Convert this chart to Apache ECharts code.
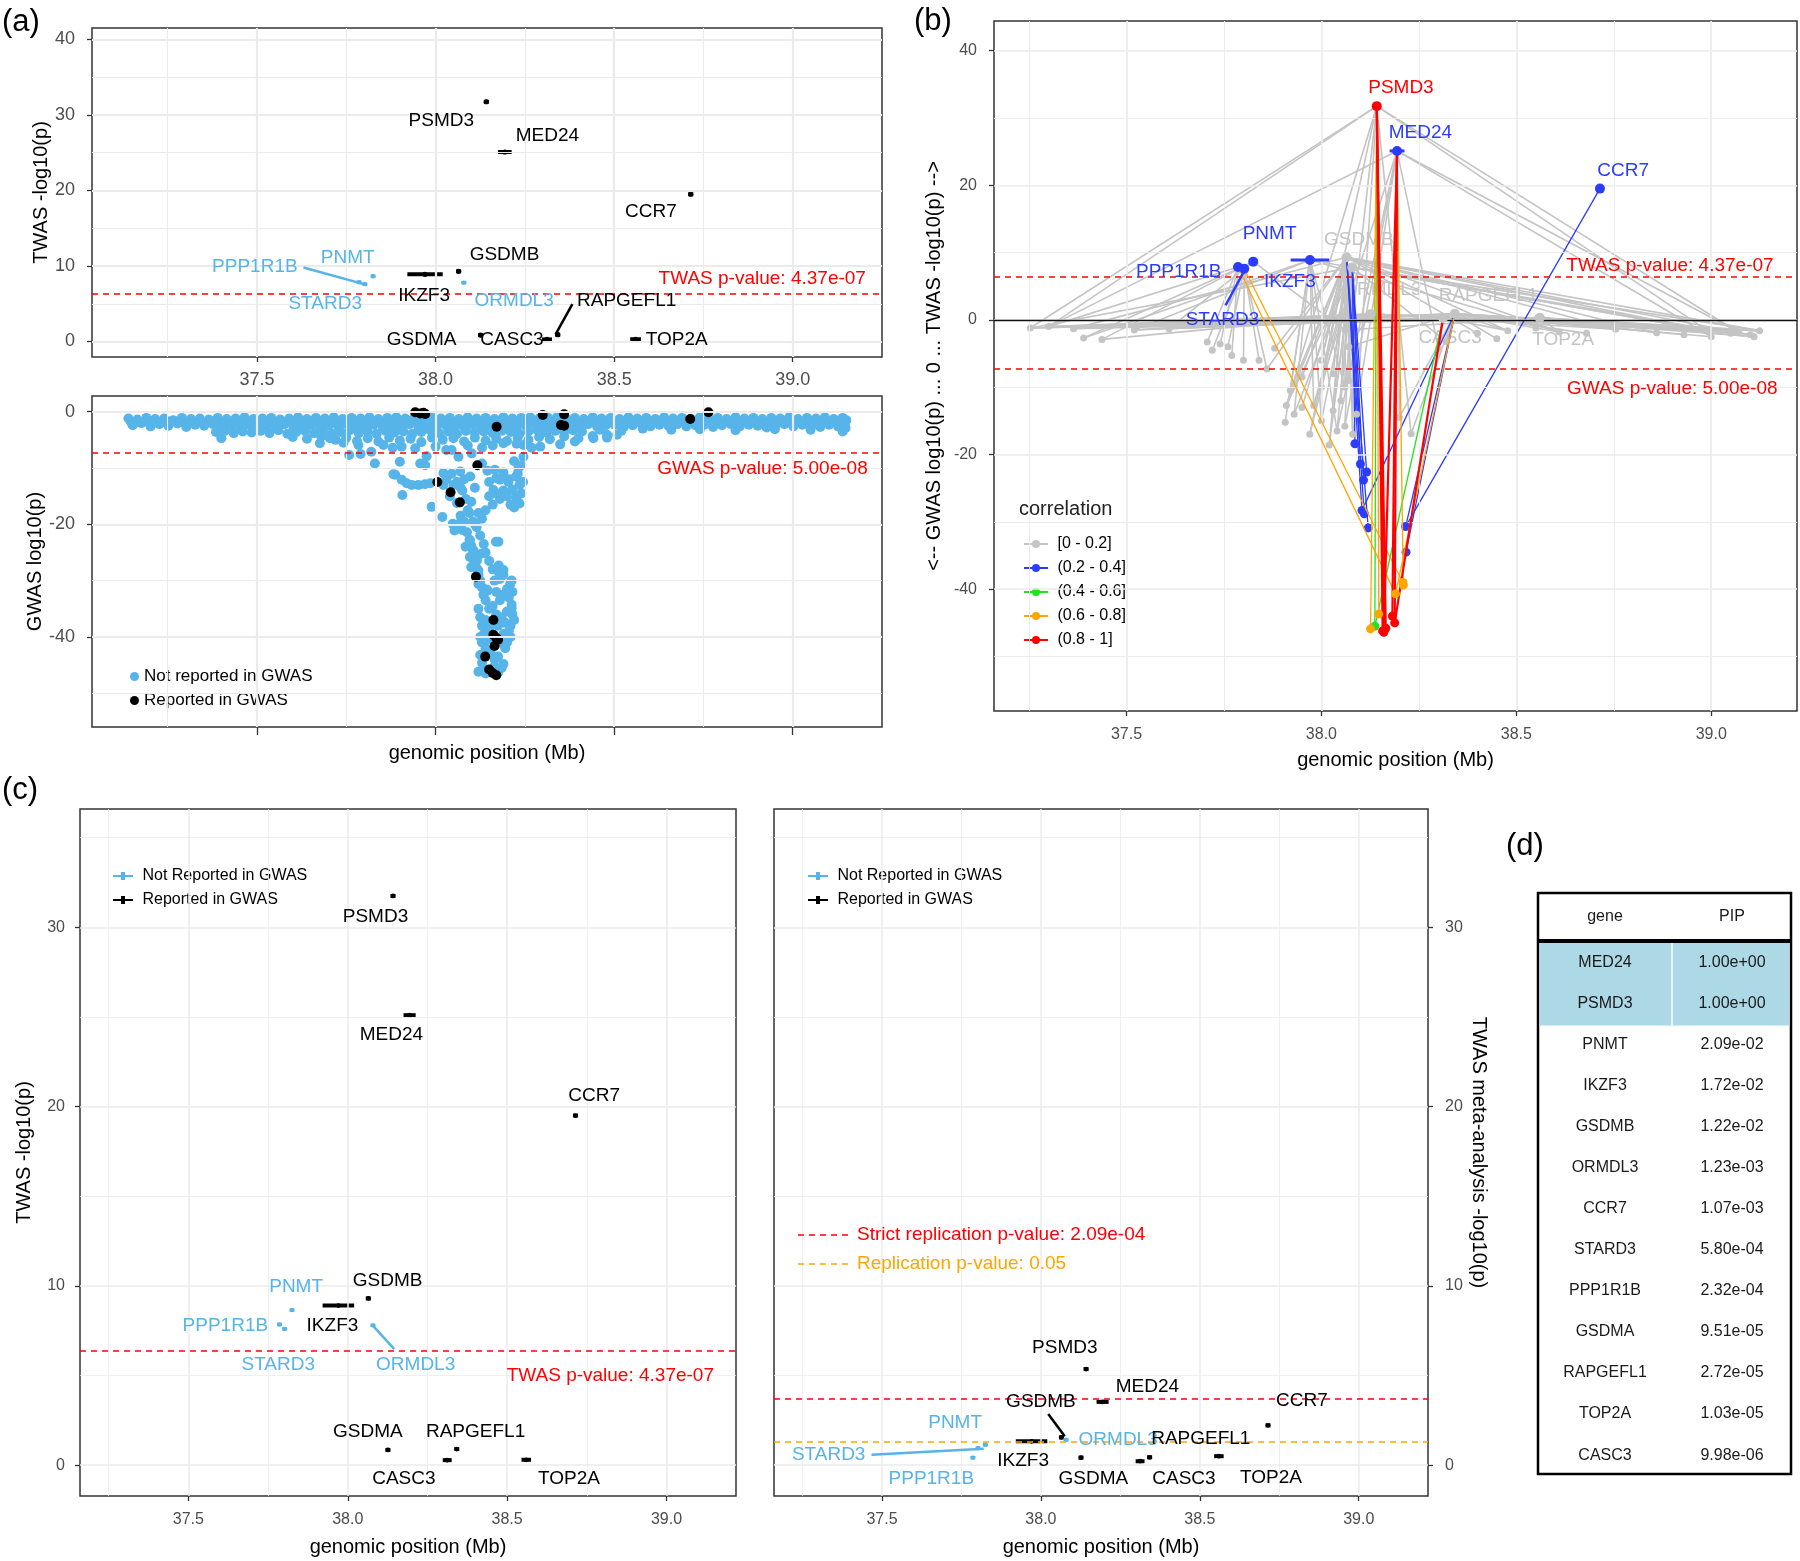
<!DOCTYPE html>
<html>
<head>
<meta charset="utf-8">
<script src="https://cdn.jsdelivr.net/npm/echarts/dist/echarts.min.js"></script>
<style>
html, body { margin: 0; background: #fff; }
#main { width: 1800px; height: 1561px; }
</style>
</head>
<body>
<div id="main"></div>
<script>
// ---- data -------------------------------------------------------------
const genes = ['PSMD3', 'MED24', 'CCR7', 'GSDMB', 'IKZF3', 'PNMT', 'PPP1R1B', 'STARD3', 'ORMDL3', 'GSDMA', 'RAPGEFL1', 'CASC3', 'TOP2A'];
const geneStart = [38.138, 38.175, 38.710, 38.061, 37.921, 37.823, 37.784, 37.796, 38.077, 38.123, 38.338, 38.298, 38.545];
const geneEnd = [38.146, 38.213, 38.719, 38.068, 38.020, 37.827, 37.788, 37.808, 38.081, 38.129, 38.346, 38.326, 38.575];
const twasLogP = [31.75, 25.1, 19.5, 9.3, 8.9, 8.65, 7.85, 7.6, 7.8, 0.85, 0.9, 0.28, 0.3];
const metaLogP = [5.36, 3.53, 2.22, 1.55, 1.33, 1.14, 0.42, 0.95, 1.42, 0.42, 0.44, 0.22, 0.5];
const reportedInGwas = [1, 1, 1, 1, 1, 0, 0, 0, 0, 1, 1, 1, 1];
const bGeneClass = [4, 1, 1, 0, 1, 1, 1, 1, 0, 0, 0, 0, 0];

const twasP = 4.37e-07;
const gwasP = 5.00e-08;
const strictRepP = 2.09e-04;
const repP = 0.05;

const xTicks = [37.5, 38.0, 38.5, 39.0];
const xMinor = [37.25, 37.75, 38.25, 38.75];

// GWAS SNPs (position Mb, log10 p)
const gwasBandTop = [[37.14,-1.2],[37.165,-1.4],[37.19,-1.1],[37.215,-1.3],[37.24,-1.2],[37.265,-1.5],[37.29,-1.1],[37.315,-1.3],[37.34,-1.2],[37.365,-1.4],[37.39,-1.1],[37.415,-1.3],[37.44,-1.2],[37.465,-1.0],[37.49,-1.3],[37.515,-1.2],[37.54,-1.1],[37.565,-1.4],[37.59,-1.2],[37.615,-1.0],[37.64,-1.3],[37.665,-1.1],[37.69,-1.2],[37.715,-1.0],[37.74,-1.3],[37.765,-1.1],[37.79,-1.2],[37.815,-1.0],[37.84,-1.3],[37.865,-1.1],[37.89,-1.0],[37.915,-1.2],[37.94,-1.1],[37.965,-1.3],[37.99,-1.0],[38.015,-1.2],[38.04,-1.1],[38.065,-1.3],[38.09,-1.0],[38.115,-1.2],[38.14,-1.1],[38.165,-1.3],[38.19,-1.0],[38.215,-1.2],[38.24,-1.1],[38.265,-1.0],[38.29,-1.2],[38.315,-1.1],[38.34,-1.0],[38.365,-1.2],[38.39,-1.1],[38.415,-1.3],[38.44,-1.0],[38.465,-1.2],[38.49,-1.1],[38.515,-1.3],[38.54,-1.0],[38.565,-1.2],[38.59,-1.1],[38.615,-1.3],[38.64,-1.0],[38.665,-1.2],[38.69,-1.1],[38.715,-1.3],[38.74,-1.0],[38.765,-1.2],[38.79,-1.1],[38.815,-1.3],[38.84,-1.0],[38.865,-1.2],[38.89,-1.1],[38.915,-1.3],[38.94,-1.1],[38.965,-1.2],[38.99,-1.0],[39.015,-1.3],[39.04,-1.1],[39.065,-1.2],[39.09,-1.0],[39.115,-1.3],[39.14,-1.1],[39.15,-1.5]];
const gwasBandFill = [[37.147,-1.8],[37.172,-1.9],[37.197,-1.7],[37.222,-1.9],[37.247,-1.8],[37.272,-1.7],[37.297,-2.0],[37.322,-1.8],[37.347,-1.9],[37.372,-1.7],[37.397,-1.9],[37.422,-1.8],[37.447,-2.0],[37.472,-1.7],[37.497,-1.9],[37.522,-1.8],[37.547,-1.7],[37.572,-1.9],[37.597,-1.8],[37.622,-2.0],[37.647,-1.7],[37.672,-1.9],[37.697,-1.8],[37.722,-1.7],[37.747,-2.0],[37.772,-1.8],[37.797,-1.9],[37.822,-1.7],[37.847,-1.9],[37.872,-1.8],[37.897,-1.7],[37.922,-2.0],[37.947,-1.8],[37.972,-1.9],[37.997,-1.7],[38.022,-1.8],[38.047,-2.0],[38.072,-1.8],[38.097,-1.7],[38.122,-1.9],[38.147,-1.8],[38.172,-1.7],[38.197,-1.9],[38.222,-1.8],[38.247,-2.0],[38.272,-1.7],[38.297,-1.9],[38.322,-1.8],[38.347,-1.7],[38.372,-1.9],[38.397,-1.8],[38.422,-2.0],[38.447,-1.7],[38.472,-1.9],[38.497,-1.8],[38.522,-1.7],[38.547,-1.9],[38.572,-1.8],[38.597,-2.0],[38.622,-1.7],[38.647,-1.9],[38.672,-1.8],[38.697,-1.7],[38.722,-1.9],[38.747,-1.8],[38.772,-2.0],[38.797,-1.7],[38.822,-1.9],[38.847,-1.8],[38.872,-1.7],[38.897,-1.9],[38.922,-1.8],[38.947,-2.0],[38.972,-1.7],[38.997,-1.9],[39.022,-1.8],[39.047,-1.7],[39.072,-1.9],[39.097,-1.8],[39.122,-2.0],[39.147,-1.9]];
const gwasBandLow = [[37.152,-2.4],[37.177,-2.0],[37.202,-2.6],[37.227,-2.2],[37.252,-2.5],[37.277,-2.1],[37.302,-2.7],[37.327,-2.3],[37.352,-2.5],[37.377,-2.2],[37.402,-2.8],[37.427,-2.4],[37.452,-2.6],[37.477,-2.3],[37.502,-2.7],[37.527,-2.4],[37.552,-2.6],[37.577,-2.2],[37.602,-2.8],[37.627,-2.5],[37.652,-2.3],[37.677,-2.7],[37.702,-2.4],[37.727,-2.6],[37.752,-2.2],[37.777,-2.8],[37.802,-2.5],[37.827,-2.3],[37.852,-2.7],[37.877,-2.4],[37.902,-2.6],[37.927,-2.2],[37.952,-2.7],[37.977,-2.4],[38.002,-2.6],[38.027,-2.3],[38.052,-2.8],[38.077,-2.5],[38.102,-2.2],[38.127,-2.7],[38.152,-2.4],[38.177,-2.6],[38.202,-2.3],[38.227,-2.8],[38.252,-2.5],[38.277,-2.2],[38.302,-2.7],[38.327,-2.4],[38.352,-2.6],[38.377,-2.3],[38.402,-2.5],[38.427,-2.2],[38.452,-2.6],[38.477,-2.4],[38.502,-2.3],[38.527,-2.7],[38.552,-2.4],[38.577,-2.2],[38.602,-2.6],[38.627,-2.3],[38.652,-2.5],[38.677,-2.2],[38.702,-2.6],[38.727,-2.4],[38.752,-2.3],[38.777,-2.7],[38.802,-2.4],[38.827,-2.2],[38.852,-2.6],[38.877,-2.3],[38.902,-2.5],[38.927,-2.8],[38.952,-2.4],[38.977,-2.2],[39.002,-2.6],[39.027,-2.3],[39.052,-2.5],[39.077,-2.7],[39.102,-2.3],[39.127,-2.6],[39.148,-2.9]];
const gwasBandMid = [[37.385,-3.6],[37.41,-3.4],[37.435,-3.8],[37.46,-3.5],[37.485,-3.7],[37.51,-3.4],[37.535,-3.8],[37.56,-3.3],[37.585,-3.9],[37.61,-3.6],[37.635,-3.4],[37.66,-3.8],[37.685,-3.5],[37.71,-3.9],[37.735,-3.6],[37.76,-3.3],[37.785,-3.8],[37.81,-3.5],[37.835,-3.9],[37.86,-3.4],[37.885,-3.7],[37.91,-3.5],[37.935,-3.9],[37.96,-3.6],[37.985,-3.3],[38.01,-3.8],[38.035,-3.5],[38.06,-3.9],[38.085,-3.4],[38.11,-3.7],[38.135,-3.5],[38.16,-3.8],[38.185,-3.4],[38.21,-3.6],[38.235,-3.9],[38.26,-3.5],[38.285,-3.3],[38.31,-3.7],[38.335,-3.4],[38.36,-3.6],[38.385,-3.3],[38.41,-3.5],[38.46,-3.2],[38.52,-3.4],[38.58,-3.0],[38.66,-3.2],[38.74,-3.1],[38.84,-3.3],[38.95,-3.1],[39.05,-3.2],[39.14,-3.5]];
const gwasBandDeep = [[37.60,-4.5],[37.64,-4.8],[37.68,-4.4],[37.72,-5.0],[37.75,-4.6],[37.78,-5.2],[37.81,-4.7],[37.84,-5.3],[37.87,-4.6],[37.90,-5.1],[37.93,-4.8],[37.96,-5.4],[37.99,-4.6],[38.02,-5.0],[38.05,-4.7],[38.08,-5.3],[38.11,-4.6],[38.14,-5.1],[38.17,-4.8],[38.20,-5.2],[38.23,-4.6],[38.26,-5.0],[38.29,-4.5],[38.32,-4.9],[38.36,-4.4],[38.40,-4.7],[38.44,-4.3],[38.48,-4.6],
  [37.40,-4.7],[37.676,-5.6],[37.704,-4.7],[37.742,-5.5],[37.758,-7.7],[37.784,-5.9],[37.79,-7.5],[37.82,-7.1],[37.83,-9.2],[37.854,-5.9],[37.88,-6.4],[37.905,-6.2],[37.943,-6.5],[37.975,-7.9],[38.0,-6.2],[38.03,-6.8],[38.045,-6.8],[38.064,-8.0],[38.09,-6.0],[38.101,-7.4],[38.13,-6.4],[38.16,-6.0],[38.19,-5.6],[38.227,-5.7],[38.246,-5.9],[38.269,-6.4],[38.293,-6.2],[38.349,-5.8],[38.39,-5.3],[38.442,-4.7],[38.48,-4.1],[38.508,-4.1]];
const gwasSpike = [[37.882,-11.1],[37.90,-8.9],[37.957,-9.2],[37.971,-9.5],[37.907,-14.8],[37.989,-16.9],[38.022,-10.9],[38.069,-10.6],[38.097,-11.5],[38.022,-13.0],
  [37.887,-11.2],[37.905,-12.1],[37.919,-12.7],[37.933,-13.0],[37.952,-13.0],[37.97,-12.9],[37.985,-12.7],
  [38.019,-18.7],[38.048,-19.9],[38.064,-20.0],[38.053,-21.1],[38.088,-21.4],[38.096,-22.8],[38.084,-24.0],[38.106,-24.6],[38.096,-25.8],[38.116,-26.4],[38.10,-27.6],[38.12,-28.2],[38.12,-30.6],[38.145,-31.8],[38.129,-25.2],[38.169,-23.1],[38.177,-27.3],[38.177,-28.5],[38.18,-29.7],[38.209,-30.6],
  [38.04,-15.0],[38.06,-16.2],[38.075,-14.0],[38.05,-13.0],[38.08,-12.0],[38.09,-17.5],[38.07,-18.5],[38.11,-13.5],[38.1,-16.0],[38.13,-9.2],[38.145,-10.5],[38.15,-12.5],[38.17,-11.8],[38.19,-10.8],[38.205,-12.0],[38.215,-13.8],[38.225,-15.2],[38.235,-16.3],[38.23,-11.0],[38.24,-9.5],[38.245,-12.5],[38.166,-10.3],[38.18,-12.1],[38.204,-12.5],[38.162,-13.9],[38.246,-8.0],[38.232,-10.0],[38.176,-23.1],[38.19,-28.1],
  [38.095,-22.8],[38.1,-23.8],[38.105,-25.0],[38.11,-26.8],[38.115,-27.8],[38.12,-29.0],[38.125,-30.0],[38.13,-31.2],[38.134,-32.5],[38.144,-31.6],[38.176,-27.5],[38.19,-29.0],[38.213,-30.0],[38.213,-34.3],[38.213,-34.9],
  [38.12,-35.0],[38.125,-36.5],[38.13,-38.0],[38.135,-39.5],[38.14,-37.0],[38.15,-38.5],[38.155,-40.0],[38.175,-38.0],[38.185,-36.5],[38.195,-37.5],[38.2,-35.5],[38.205,-39.0],[38.21,-40.0],[38.215,-36.0],[38.19,-39.5],[38.18,-41.0],
  [38.125,-43.2],[38.13,-44.6],[38.135,-45.8],[38.14,-46.5],[38.15,-46.0],[38.165,-45.2],[38.175,-46.3],[38.185,-45.5],[38.19,-44.8],[38.12,-46.2],
  [38.105,-19.5],[38.115,-20.5],[38.125,-22.0],[38.135,-23.5],[38.14,-25.0],[38.15,-26.5],[38.16,-28.0],[38.165,-30.0],[38.17,-32.0],[38.18,-33.5],[38.19,-32.5],[38.2,-31.5],[38.205,-33.0],[38.215,-32.0],[38.14,-33.5],[38.15,-35.0],[38.16,-34.5],[38.17,-36.0],[38.145,-40.5],[38.14,-42.0],[38.155,-43.0],[38.165,-44.0],[38.175,-43.5],[38.195,-42.0],[38.2,-41.0],[38.21,-38.0],[38.22,-37.0],[38.18,-37.5],[38.13,-41.0],[38.125,-40.0],
  [38.22,-8.8],[38.225,-11.5],[38.235,-13.0],[38.24,-14.5],[38.23,-16.0],[38.22,-17.0],[38.21,-16.5],[38.2,-15.0],[38.19,-14.0],[38.18,-15.5],[38.17,-14.5],[38.16,-16.5],[38.15,-15.0],[38.14,-17.5],[38.13,-19.0],[38.12,-18.0],[38.11,-20.0],
  [38.03,-12.0],[38.045,-11.0],[38.06,-12.5],[38.07,-13.5],[38.085,-15.5],[38.095,-18.0],[38.08,-19.5],[38.075,-21.0]];
const gwasReported = [[37.943,-0.1],[37.957,-0.3],[37.971,-0.4],[37.966,-0.2],[38.171,-2.66],[38.30,-0.6],[38.36,-0.47],[38.351,-2.36],[38.36,-2.5],[38.713,-1.3],[38.764,-0.1],[38.117,-9.5],[38.005,-12.5],[38.042,-14.3],[38.068,-16.1],[38.113,-29.3],[38.162,-37.0],[38.162,-39.6],[38.17,-40.2],[38.175,-40.5],[38.165,-41.6],[38.139,-43.5],[38.15,-45.8],[38.16,-46.4],[38.17,-46.8]];

// panel (b): [gene index, SNP position (Mb), GWAS log10 p, correlation class]
const corrNames = ['[0 - 0.2]', '(0.2 - 0.4]', '(0.4 - 0.6]', '(0.6 - 0.8]', '(0.8 - 1]'];
const bLinks = [
  [0,37.253,-1.2,0],[0,39.06,-1.5,0],[0,38.06,-10.0,0],[0,38.00,-6.0,0],[0,38.23,-16.9,0],[0,37.91,-12.7,0],[0,38.09,-14.0,0],[0,38.99,-1.6,0],[0,37.30,-1.0,0],
  [1,37.30,-1.0,0],[1,39.07,-1.8,0],[1,39.00,-2.5,0],[1,38.06,-15.8,0],[1,38.20,-14.5,0],[1,38.30,-4.2,0],[1,38.08,-17.0,0],[1,38.04,-16.5,0],[1,37.98,-12.7,0],
  [3,37.364,-1.3,0],[3,39.10,-2.2,0],[3,39.124,-1.6,0],[3,38.478,-1.6,0],[3,38.755,-1.4,0],[3,38.02,-18.6,0],[3,37.95,-13.0,0],[3,37.91,-12.7,0],[3,38.05,-12.0,0],[3,38.07,-4.0,0],[3,38.61,-1.8,0],[3,38.99,-1.6,0],[3,38.08,-17.0,0],[3,38.09,-14.0,0],
  [3,37.86,-7.3,0],[3,37.88,-4.2,0],[3,38.00,-6.0,0],[3,38.06,-10.0,0],[3,38.03,-8.0,0],[3,37.92,-10.5,0],[3,37.95,-8.5,0],[3,38.00,-10.0,0],[3,38.03,-13.5,0],[3,37.97,-17.0,0],[3,38.40,-2.0,0],[3,38.86,-1.9,0],
  [4,37.907,-15.2,0],[4,37.98,-12.7,0],[4,38.61,-1.8,0],[4,37.52,-1.5,0],[4,38.04,-16.5,0],[4,38.00,-15.0,0],[4,38.06,-10.0,0],[4,37.93,-14.0,0],[4,38.99,-1.6,0],[4,37.39,-2.7,0],[4,37.92,-10.5,0],
  [5,37.39,-2.7,0],[5,37.437,-2.9,0],[5,37.609,-1.3,0],[5,38.06,-1.5,0],
  [6,37.707,-3.3,0],[6,37.74,-3.6,0],[6,37.77,-5.3,0],[6,37.30,-1.0,0],
  [7,37.80,-6.0,0],[7,37.76,-4.0,0],[7,37.86,-7.3,0],[7,37.72,-4.5,0],[7,37.84,-6.0,0],
  [8,38.00,-15.0,0],[8,37.93,-14.0,0],[8,38.06,-15.8,0],[8,39.05,-2.0,0],[8,38.99,-1.6,0],[8,38.32,-3.2,0],[8,38.05,-12.0,0],[8,38.07,-9.0,0],
  [8,37.91,-12.7,0],[8,37.98,-12.7,0],[8,38.02,-18.6,0],[8,38.04,-16.5,0],[8,38.09,-14.0,0],[8,38.08,-17.0,0],[8,37.253,-1.2,0],[8,39.124,-1.6,0],[8,37.97,-17.0,0],[8,38.03,-13.5,0],
  [9,37.253,-1.2,0],[9,39.124,-1.6,0],[9,38.07,-4.0,0],[9,37.30,-1.0,0],[9,39.06,-1.5,0],[9,38.99,-1.6,0],[9,37.52,-1.5,0],[9,38.755,-1.4,0],[9,37.437,-2.9,0],
  [10,39.06,-1.5,0],[10,39.124,-1.6,0],[10,39.11,-2.5,0],[10,37.30,-1.0,0],[10,37.364,-1.3,0],[10,38.07,-4.0,0],[10,38.30,-4.2,0],[10,38.32,-3.2,0],[10,38.478,-1.6,0],[10,38.755,-1.4,0],[10,38.20,-14.5,0],[10,38.23,-16.9,0],
  [10,38.99,-1.6,0],[10,39.07,-1.8,0],[10,39.00,-2.5,0],[10,37.52,-1.5,0],[10,37.609,-1.3,0],[10,38.61,-1.8,0],[10,38.45,-2.8,0],[10,38.68,-2.0,0],[10,38.93,-2.2,0],
  [11,37.253,-1.2,0],[11,39.07,-1.8,0],[11,38.99,-1.6,0],[11,37.52,-1.5,0],[11,39.124,-1.6,0],[11,39.06,-1.5,0],[11,37.30,-1.0,0],[11,38.478,-1.6,0],[11,37.609,-1.3,0],[11,38.30,-4.2,0],
  [12,39.10,-2.2,0],[12,37.364,-1.3,0],[12,38.61,-1.8,0],[12,38.06,-1.5,0],[12,39.06,-1.5,0],[12,39.124,-1.6,0],[12,39.11,-2.5,0],[12,37.253,-1.2,0],[12,38.99,-1.6,0],[12,38.755,-1.4,0],[12,38.55,-1.2,0],[12,38.86,-1.9,0],
  [2,38.216,-30.7,1],[8,38.086,-18.4,1],[8,38.10,-21.4,1],[8,38.116,-22.6,1],[8,38.108,-23.8,1],[3,38.104,-28.3,1],[3,38.11,-28.8,1],[3,38.12,-30.9,1],[10,38.217,-34.5,1],[10,38.216,-30.7,1],[10,38.104,-28.3,1],
  [0,38.137,-45.5,2],[11,38.137,-45.5,2],
  [7,38.209,-39.0,3],[6,38.19,-40.7,3],[0,38.126,-45.9,3],[0,38.147,-43.7,3],[1,38.21,-39.4,3],[10,38.19,-40.7,3],
  [0,38.157,-46.2,4],[0,38.16,-46.4,4],[0,38.165,-45.8,4],[1,38.188,-45.0,4],[1,38.182,-44.0,4],[1,38.16,-46.4,4],[11,38.188,-45.0,4]
];

// panel (d)
const pipGenes = ['MED24', 'PSMD3', 'PNMT', 'IKZF3', 'GSDMB', 'ORMDL3', 'CCR7', 'STARD3', 'PPP1R1B', 'GSDMA', 'RAPGEFL1', 'TOP2A', 'CASC3'];
const pipValues = [1.00, 1.00, 2.09e-2, 1.72e-2, 1.22e-2, 1.23e-3, 1.07e-3, 5.80e-4, 2.32e-4, 9.51e-5, 2.72e-5, 1.03e-5, 9.98e-6];

// ---- styling ----------------------------------------------------------
const FONT = '"Liberation Sans", Arial, sans-serif';
const SKY = '#56B4E9';
const corrColors = ['#c4c4c4', '#2b3cff', '#22e022', '#ffa500', '#ff0000'];
const RED = '#ff0000';

const twasLine = -Math.log10(twasP);
const gwasLine = Math.log10(gwasP);
const strictLine = -Math.log10(strictRepP);
const repLine = -Math.log10(repP);

const mid = i => (geneStart[i] + geneEnd[i]) / 2;

function xAxisDef(grid, min, max, o) {
  return {
    type: 'value', gridIndex: grid, min, max, position: 'bottom',
    axisLine: { show: false, onZero: false },
    axisTick: { show: true, length: o.tick, lineStyle: { color: '#333', width: 1.3 }, customValues: xTicks },
    axisLabel: { show: o.labels, margin: o.margin, color: '#4d4d4d', fontSize: o.font, fontFamily: FONT,
      formatter: v => v.toFixed(1), customValues: xTicks },
    splitLine: { show: false },
    name: o.name || '', nameLocation: 'middle', nameGap: o.nameGap || 0,
    nameTextStyle: { fontSize: 20, fontFamily: FONT, color: '#000' }
  };
}
function yAxisDef(grid, min, max, ticks, o) {
  return {
    type: 'value', gridIndex: grid, min, max, position: o.right ? 'right' : 'left',
    axisLine: { show: false, onZero: false },
    axisTick: { show: true, length: 5, lineStyle: { color: '#333', width: 1.3 }, customValues: ticks },
    axisLabel: { margin: o.margin, color: '#4d4d4d', fontSize: o.font, fontFamily: FONT, customValues: ticks },
    splitLine: { show: false },
    name: o.name, nameLocation: 'middle', nameGap: o.nameGap, nameRotate: o.right ? -90 : 90,
    nameTextStyle: { fontSize: 20, fontFamily: FONT, color: '#000' }
  };
}

function gridLines(i, hMajor, hMinor, wMaj, wMin) {
  const d = [];
  xMinor.forEach(v => d.push({ xAxis: v, lineStyle: { width: wMin } }));
  hMinor.forEach(v => d.push({ yAxis: v, lineStyle: { width: wMin } }));
  xTicks.forEach(v => d.push({ xAxis: v, lineStyle: { width: wMaj } }));
  hMajor.forEach(v => d.push({ yAxis: v, lineStyle: { width: wMaj } }));
  return {
    type: 'line', xAxisIndex: i, yAxisIndex: i, data: [], silent: true, z: 1,
    markLine: { silent: true, symbol: 'none', animation: false, label: { show: false },
      lineStyle: { color: '#ebebeb', type: 'solid' }, emphasis: { disabled: true }, data: d }
  };
}

function refLines(i, lines) {
  return {
    type: 'line', xAxisIndex: i, yAxisIndex: i, data: [], silent: true, z: 3,
    markLine: { silent: true, symbol: 'none', animation: false, label: { show: false }, emphasis: { disabled: true },
      data: lines.map(l => ({ yAxis: l.y, lineStyle: { color: l.color, width: l.width || 1.5, type: l.dash ? [6, 5] : 'solid' } })) }
  };
}

function geneSeries(name, i, idx, vals, color, dotR, lw, z) {
  return {
    type: 'custom', name, xAxisIndex: i, yAxisIndex: i, z: z || 4, silent: true,
    itemStyle: { color },
    data: idx.map(k => [geneStart[k], geneEnd[k], vals[k]]),
    renderItem: (params, api) => {
      const a = api.coord([api.value(0), api.value(2)]);
      const b = api.coord([api.value(1), api.value(2)]);
      const x1 = Math.min(a[0], b[0]), x2 = Math.max(a[0], b[0]);
      const pad = Math.max(0, (5 - (x2 - x1)) / 2);
      return { type: 'group', children: [
        { type: 'line', shape: { x1: x1 - pad, y1: a[1], x2: x2 + pad, y2: a[1] }, style: { stroke: color, lineWidth: lw } },
        { type: 'circle', shape: { cx: (x1 + x2) / 2, cy: a[1], r: dotR }, style: { fill: color } }
      ] };
    }
  };
}

function labelSeries(i, items, z) {
  return {
    type: 'custom', xAxisIndex: i, yAxisIndex: i, z: z || 6, silent: true,
    data: items.map((it, k) => [it.at[0], it.at[1], k]),
    renderItem: (params, api) => {
      const it = items[api.value(2)];
      const p = api.coord([api.value(0), api.value(1)]);
      const children = [];
      if (it.lead) {
        const a = api.coord(it.lead[0]), b = api.coord(it.lead[1]);
        children.push({ type: 'line', shape: { x1: a[0], y1: a[1], x2: b[0], y2: b[1] }, style: { stroke: it.color, lineWidth: it.lw || 2.5 } });
      }
      const al = it.align || 'center';
      children.push({ type: 'text', x: p[0], y: p[1], style: { text: it.text, fill: it.color, font: (it.size || 19) + 'px ' + FONT,
        align: al, textAlign: al, verticalAlign: 'middle', textVerticalAlign: 'middle' } });
      return { type: 'group', children };
    }
  };
}

const nameColor = k => reportedInGwas[k] ? '#000' : SKY;
function geneLabels(pos, leads) {
  return Object.keys(pos).map(g => {
    const k = genes.indexOf(g);
    return { text: g, at: pos[g], color: nameColor(k), lead: leads[g] };
  });
}

// ---- label placement per panel (data coordinates) ----------------------
const labA = geneLabels({
  PSMD3: [38.016, 29.2], MED24: [38.313, 27.3], CCR7: [38.603, 17.2], GSDMB: [38.193, 11.5], IKZF3: [37.968, 6.0],
  PNMT: [37.754, 11.1], PPP1R1B: [37.494, 9.9], STARD3: [37.691, 4.96], ORMDL3: [38.22, 5.35], RAPGEFL1: [38.535, 5.35],
  GSDMA: [37.961, 0.27], CASC3: [38.214, 0.27], TOP2A: [38.675, 0.27]
}, { PPP1R1B: [[37.63, 9.8], [37.807, 7.5]], RAPGEFL1: [[38.383, 4.96], [38.336, 0.95]] });
labA.push({ text: 'TWAS p-value: 4.37e-07', at: [39.205, 8.26], color: RED, align: 'right' });

const labC = geneLabels({
  PSMD3: [38.087, 30.6], MED24: [38.137, 24.0], CCR7: [38.773, 20.6], GSDMB: [38.125, 10.3], PNMT: [37.838, 9.94],
  PPP1R1B: [37.616, 7.75], IKZF3: [37.952, 7.75], STARD3: [37.782, 5.6], ORMDL3: [38.213, 5.6],
  GSDMA: [38.063, 1.89], RAPGEFL1: [38.401, 1.89], CASC3: [38.176, -0.75], TOP2A: [38.694, -0.75]
}, { ORMDL3: [[38.078, 7.8], [38.146, 6.47]] });
labC.push({ text: 'TWAS p-value: 4.37e-07', at: [39.149, 5.0], color: RED, align: 'right' });

const labCR = geneLabels({
  PSMD3: [38.075, 6.56], MED24: [38.335, 4.39], CCR7: [38.821, 3.61], GSDMB: [38.0, 3.56], PNMT: [37.73, 2.36],
  ORMDL3: [38.243, 1.42], RAPGEFL1: [38.503, 1.47], STARD3: [37.332, 0.58], IKZF3: [37.944, 0.22],
  PPP1R1B: [37.655, -0.75], GSDMA: [38.165, -0.75], CASC3: [38.45, -0.75], TOP2A: [38.724, -0.69]
}, { GSDMB: [[38.023, 2.86], [38.075, 1.61]], STARD3: [[37.467, 0.58], [37.82, 0.92]] });

const bPos = {
  PSMD3: [38.204, 34.5], MED24: [38.254, 27.8], CCR7: [38.774, 22.2], PNMT: [37.867, 12.8], GSDMB: [38.096, 11.9],
  PPP1R1B: [37.634, 7.1], IKZF3: [37.919, 5.7], ORMDL3: [38.155, 4.5], RAPGEFL1: [38.428, 3.6], STARD3: [37.746, 0.0],
  CASC3: [38.33, -2.6], TOP2A: [38.62, -3.0]
};
const bLabGray = [], bLabColor = [];
Object.keys(bPos).forEach(g => {
  const k = genes.indexOf(g);
  const c = bGeneClass[k];
  const it = { text: g, at: bPos[g], color: c === 0 ? '#c4c4c4' : corrColors[c] };
  if (g === 'STARD3') it.lead = [[37.754, 2.15], [37.805, 7.6]];
  (c === 0 ? bLabGray : bLabColor).push(it);
});
const bThreshLab = [
  { text: 'TWAS p-value: 4.37e-07', at: [39.16, 8.1], color: RED, align: 'right' },
  { text: 'GWAS p-value: 5.00e-08', at: [39.17, -10.2], color: RED, align: 'right' }
];

// ---- series ------------------------------------------------------------
const all = genes.map((g, k) => k);
const notRep = all.filter(k => !reportedInGwas[k]);
const rep = all.filter(k => reportedInGwas[k]);

const series = [
  gridLines(0, [0, 10, 20, 30, 40], [5, 15, 25, 35], 2.2, 1.1),
  gridLines(1, [0, -20, -40], [-10, -30, -50], 2.2, 1.1),
  gridLines(2, [40, 20, 0, -20, -40], [30, 10, -10, -30, -50], 1.7, 0.9),
  gridLines(3, [0, 10, 20, 30], [5, 15, 25, 35], 1.5, 0.8),
  gridLines(4, [0, 10, 20, 30], [5, 15, 25, 35], 1.5, 0.8),

  // (a) top
  refLines(0, [{ y: twasLine, color: RED, dash: true }]),
  geneSeries('a-rep', 0, rep, twasLogP, '#000', 2.6, 4),
  geneSeries('a-notrep', 0, notRep, twasLogP, SKY, 2.2, 3.5),
  labelSeries(0, labA),

  // (a) bottom
  refLines(1, [{ y: gwasLine, color: RED, dash: true }]),
  { type: 'scatter', name: 'Not reported in GWAS', xAxisIndex: 1, yAxisIndex: 1, symbolSize: 10, z: 2, silent: true,
    itemStyle: { color: SKY, opacity: 1 },
    data: [].concat(gwasBandTop, gwasBandFill, gwasBandLow, gwasBandMid, gwasBandDeep, gwasSpike) },
  { type: 'scatter', name: 'Reported in GWAS', xAxisIndex: 1, yAxisIndex: 1, symbolSize: 10, z: 4, silent: true,
    itemStyle: { color: '#000', opacity: 1 }, data: gwasReported },
  labelSeries(1, [{ text: 'GWAS p-value: 5.00e-08', at: [39.21, -10.2], color: RED, align: 'right' }]),

  // (b)
  refLines(2, [{ y: 0, color: '#111', width: 1.4 }, { y: twasLine, color: RED, dash: true }, { y: gwasLine, color: RED, dash: true }]),
  labelSeries(2, bLabGray, 2),
  labelSeries(2, bThreshLab, 12)
];

corrNames.forEach((nm, c) => {
  const links = bLinks.filter(l => l[3] === c);
  const seen = {};
  const pts = [];
  links.forEach(l => { const key = l[1] + '_' + l[2]; if (!seen[key]) { seen[key] = 1; pts.push([l[1], l[2]]); } });
  series.push({ type: 'scatter', name: nm, xAxisIndex: 2, yAxisIndex: 2, symbolSize: c === 0 ? 7 : 9, z: 4 + c, silent: true,
    itemStyle: { color: corrColors[c], opacity: 1 }, data: pts });
  series.push({ type: 'lines', name: nm, coordinateSystem: 'cartesian2d', xAxisIndex: 2, yAxisIndex: 2, z: 3 + c, silent: true,
    lineStyle: { color: corrColors[c], width: c === 4 ? 2.2 : (c === 0 ? 1.6 : 1.3), opacity: 1, curveness: 0 },
    data: links.map(l => ({ coords: [[mid(l[0]), twasLogP[l[0]]], [l[1], l[2]]] })) });
});
[0, 1, 4].forEach(c => {
  const idx = all.filter(k => bGeneClass[k] === c);
  series.push(geneSeries('b-gene-' + c, 2, idx, twasLogP, corrColors[c], 5, 3, 9));
});
series.push(labelSeries(2, bLabColor, 10));

// (c) left and right
series.push(
  refLines(3, [{ y: twasLine, color: RED, dash: true }]),
  geneSeries('Reported in GWAS', 3, rep, twasLogP, '#000', 2.4, 4),
  geneSeries('Not Reported in GWAS', 3, notRep, twasLogP, SKY, 2.2, 3.5),
  labelSeries(3, labC),
  refLines(4, [{ y: strictLine, color: RED, dash: true }, { y: repLine, color: '#ffa500', dash: true }]),
  geneSeries('Reported in GWAS', 4, rep, metaLogP, '#000', 2.4, 4),
  geneSeries('Not Reported in GWAS', 4, notRep, metaLogP, SKY, 2.2, 3.5),
  labelSeries(4, labCR)
);

// ---- graphic: panel letters, annotations, PIP table -------------------
const txt = (x, y, text, size, color, align) => ({
  type: 'text', x, y, z: 100,
  style: { text, fill: color || '#000', font: size + 'px ' + FONT, align: align || 'left', textAlign: align || 'left',
    verticalAlign: 'middle', textVerticalAlign: 'middle' }
});
const fmtPip = v => {
  const parts = v.toExponential(2).split('e');
  const e = parseInt(parts[1], 10);
  return parts[0] + 'e' + (e < 0 ? '-' : '+') + String(Math.abs(e)).padStart(2, '0');
};

const T = { left: 1538, right: 1791, top: 893, bottom: 1474, headY: 917, lineY: 941, row0: 962.5, rowH: 41.05, c1: 1605, c2: 1732, div: 1672 };
const hiRows = pipValues.filter(v => v >= 0.5).length;
const graphics = [
  txt(2, 22, '(a)', 31), txt(914, 21, '(b)', 31), txt(2, 790, '(c)', 31), txt(1506, 846, '(d)', 31),
  txt(1019, 509, 'correlation', 20, '#222'),
  { type: 'line', z: 100, shape: { x1: 798, y1: 1235, x2: 852, y2: 1235 }, style: { stroke: RED, lineWidth: 1.6, lineDash: [6, 5] } },
  txt(857, 1235, 'Strict replication p-value: 2.09e-04', 19, RED),
  { type: 'line', z: 100, shape: { x1: 798, y1: 1264, x2: 852, y2: 1264 }, style: { stroke: '#ffa500', lineWidth: 1.6, lineDash: [6, 5] } },
  txt(857, 1264, 'Replication p-value: 0.05', 19, '#ffa500'),
  { type: 'rect', z: 99, shape: { x: T.left, y: T.top, width: T.right - T.left, height: T.bottom - T.top }, style: { fill: '#fff', stroke: '#000', lineWidth: 2.5 } },
  { type: 'rect', z: 100, shape: { x: T.left + 1.5, y: T.lineY + 1.5, width: T.right - T.left - 3, height: hiRows * T.rowH + 1 }, style: { fill: '#add8e6' } },
  { type: 'line', z: 101, shape: { x1: T.div, y1: T.lineY + 2, x2: T.div, y2: T.lineY + 2 + hiRows * T.rowH }, style: { stroke: '#fff', lineWidth: 1.5 } },
  { type: 'line', z: 101, shape: { x1: T.left, y1: T.lineY, x2: T.right, y2: T.lineY }, style: { stroke: '#000', lineWidth: 4 } },
  txt(T.c1, T.headY, 'gene', 16, '#1a1a1a', 'center'), txt(T.c2, T.headY, 'PIP', 16, '#1a1a1a', 'center')
];
pipGenes.forEach((g, r) => {
  const y = T.row0 + r * T.rowH;
  graphics.push(txt(T.c1, y, g, 16, '#1a1a1a', 'center'), txt(T.c2, y, fmtPip(pipValues[r]), 16, '#1a1a1a', 'center'));
});

// ---- chart -------------------------------------------------------------
const chart = echarts.init(document.getElementById('main'));
const gridStyle = { show: true, borderColor: '#333', borderWidth: 1.5, backgroundColor: '#fff' };
const lineIcon = 'path://M0,4h20v2h-20z M8,1h4v8h-4z';
const corrIcon = 'path://M0,3h24v2h-24z M8,4a4,4 0 1,1 8,0a4,4 0 1,1 -8,0z';

chart.setOption({
  animation: false,
  backgroundColor: '#fff',
  textStyle: { fontFamily: FONT },
  grid: [
    Object.assign({ left: 92, top: 28, width: 790, height: 329 }, gridStyle),
    Object.assign({ left: 92, top: 396, width: 790, height: 331 }, gridStyle),
    Object.assign({ left: 994, top: 21, width: 803, height: 690 }, gridStyle),
    Object.assign({ left: 80, top: 809, width: 656, height: 687 }, gridStyle),
    Object.assign({ left: 774, top: 809, width: 654, height: 687 }, gridStyle)
  ],
  xAxis: [
    xAxisDef(0, 37.038, 39.25, { tick: 5, labels: true, margin: 14, font: 18 }),
    xAxisDef(1, 37.038, 39.25, { tick: 8, labels: false, margin: 8, font: 18, name: 'genomic position (Mb)', nameGap: 16 }),
    xAxisDef(2, 37.16, 39.22, { tick: 5, labels: true, margin: 16, font: 16, name: 'genomic position (Mb)', nameGap: 39 }),
    xAxisDef(3, 37.16, 39.218, { tick: 5, labels: true, margin: 16, font: 16, name: 'genomic position (Mb)', nameGap: 41 }),
    xAxisDef(4, 37.16, 39.218, { tick: 5, labels: true, margin: 16, font: 16, name: 'genomic position (Mb)', nameGap: 41 })
  ],
  yAxis: [
    yAxisDef(0, -2.05, 41.52, [0, 10, 20, 30, 40], { margin: 17, font: 18, name: 'TWAS -log10(p)', nameGap: 38 }),
    yAxisDef(1, -56.0, 2.79, [-40, -20, 0], { margin: 17, font: 18, name: 'GWAS log10(p)', nameGap: 38 }),
    yAxisDef(2, -58.1, 44.4, [-40, -20, 0, 20, 40], { margin: 17, font: 16, name: '<-- GWAS log10(p) ... 0 ... TWAS -log10(p) -->', nameGap: 50 }),
    yAxisDef(3, -1.72, 36.6, [0, 10, 20, 30], { margin: 15, font: 16, name: 'TWAS -log10(p)', nameGap: 46 }),
    yAxisDef(4, -1.72, 36.6, [0, 10, 20, 30], { margin: 17, font: 16, name: 'TWAS meta-analysis -log10(p)', nameGap: 41, right: true })
  ],
  legend: [
    { orient: 'vertical', left: 125, top: 663, itemWidth: 9, itemHeight: 9, itemGap: 7, icon: 'circle', selectedMode: false,
      textStyle: { fontSize: 17, fontFamily: FONT, color: '#000' },
      data: [{ name: 'Not reported in GWAS', itemStyle: { color: SKY } }, { name: 'Reported in GWAS', itemStyle: { color: '#000' } }] },
    { orient: 'vertical', left: 1019, top: 531, itemWidth: 24, itemHeight: 8, itemGap: 8, selectedMode: false,
      textStyle: { fontSize: 16, fontFamily: FONT, color: '#000' }, formatter: ' {name}',
      data: corrNames.map((n, c) => ({ name: n, icon: corrIcon, itemStyle: { color: corrColors[c] } })) },
    { orient: 'vertical', left: 108, top: 863, itemWidth: 20, itemHeight: 9, itemGap: 8, selectedMode: false,
      textStyle: { fontSize: 16, fontFamily: FONT, color: '#000' }, formatter: ' {name}',
      data: [{ name: 'Not Reported in GWAS', icon: lineIcon, itemStyle: { color: SKY } }, { name: 'Reported in GWAS', icon: lineIcon, itemStyle: { color: '#000' } }] },
    { orient: 'vertical', left: 803, top: 863, itemWidth: 20, itemHeight: 9, itemGap: 8, selectedMode: false,
      textStyle: { fontSize: 16, fontFamily: FONT, color: '#000' }, formatter: ' {name}',
      data: [{ name: 'Not Reported in GWAS', icon: lineIcon, itemStyle: { color: SKY } }, { name: 'Reported in GWAS', icon: lineIcon, itemStyle: { color: '#000' } }] }
  ],
  graphic: { elements: graphics },
  series
});
</script>
</body>
</html>
